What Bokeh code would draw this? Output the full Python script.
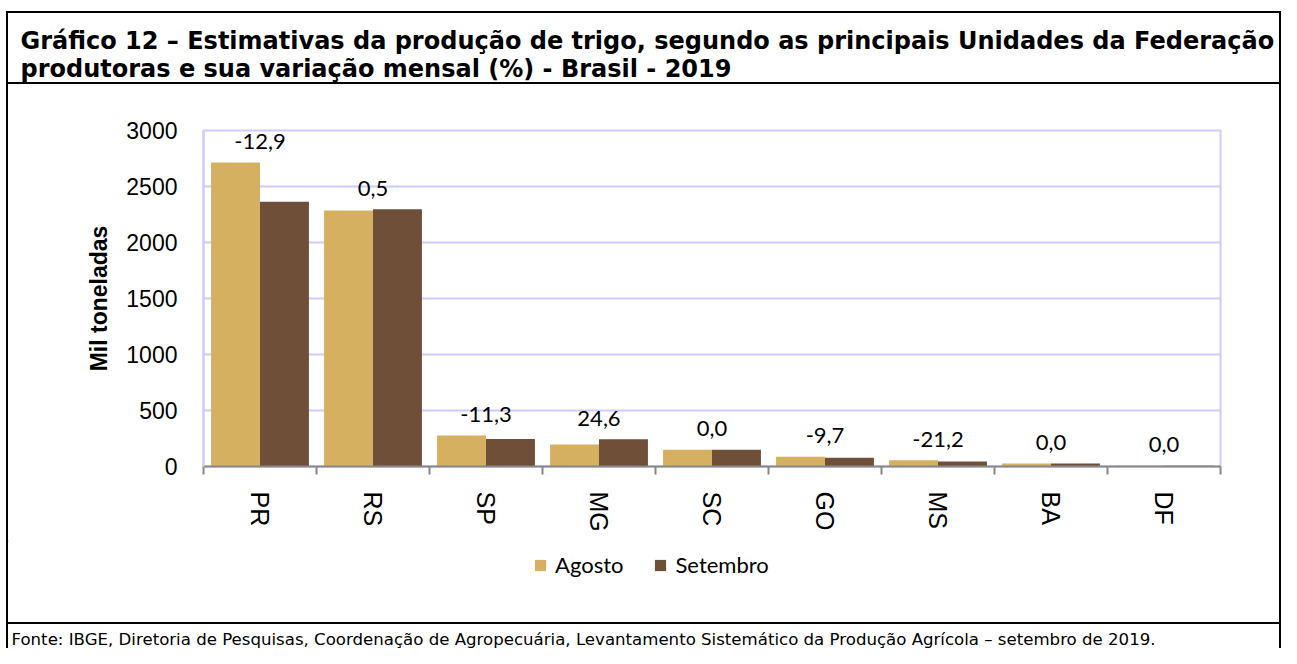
from bokeh.plotting import figure
from bokeh.layouts import column, row
from bokeh.models import (ColumnDataSource, FixedTicker, LabelSet, Legend, LegendItem,
                          Range1d, Spacer)
from bokeh.core.properties import value
from bokeh.embed import file_html
from bokeh.resources import INLINE

# ---- data ----
estados = ["PR", "RS", "SP", "MG", "SC", "GO", "MS", "BA", "DF"]
agosto = [2714, 2286, 277, 196, 149, 86, 56, 27, 6]
setembro = [2364, 2297, 246, 244, 149, 78, 44, 27, 6]
variacao = ["-12,9", "0,5", "-11,3", "24,6", "0,0", "-9,7", "-21,2", "0,0", "0,0"]
y_ticks = [0, 500, 1000, 1500, 2000, 2500, 3000]
series = ["Agosto", "Setembro"]

titulo1 = "Gráfico 12 – Estimativas da produção de trigo, segundo as principais Unidades da Federação"
titulo2 = "produtoras e sua variação mensal (%) - Brasil - 2019"
fonte = ("Fonte: IBGE, Diretoria de Pesquisas, Coordenação de Agropecuária, Levantamento "
         "Sistemático da Produção Agrícola – setembro de 2019.")

C_AGO = "#D4B060"
C_SET = "#6F4F38"
GRID = "#CCCCFF"

W, H = 1281, 648
LEFT_GAP, BW = 6, 2                 # white gap and border width
IW = W - LEFT_GAP - 2 * BW          # inner width
TOP_GAP = 11
TITLE_H, CHART_H, LEG_H = 69, 456, 82
FOOT_H = H - TOP_GAP - BW - TITLE_H - BW - CHART_H - LEG_H - BW


def bar(w, h):
    return Spacer(width=w, height=h, styles={"background-color": "black"})


def plain_fig(w, h):
    f = figure(width=w, height=h, output_backend="svg", toolbar_location=None,
               x_range=Range1d(0, w), y_range=Range1d(h, 0),
               x_axis_type=None, y_axis_type=None, min_border=0,
               background_fill_color="white", border_fill_color="white")
    f.outline_line_color = None
    f.grid.visible = False
    f.frame_align = False
    return f


# ---- title ----
tf = plain_fig(IW, TITLE_H)
tf.text(x=[12, 12], y=[27, 55], text=[titulo1, titulo2],
        text_font=value("DejaVu Sans"), text_font_style="bold", text_font_size="24px",
        text_baseline="alphabetic", text_color="black")

# ---- footer ----
ff = plain_fig(IW, FOOT_H)
ff.text(x=[3], y=[15], text=[fonte], text_font=value("DejaVu Sans"),
        text_font_size="16.6px", text_baseline="alphabetic", text_color="black")

# ---- chart ----
n = len(estados)
centers = [i + 0.5 for i in range(n)]
bw = 0.433
src = ColumnDataSource(dict(
    x_ago=[c - bw / 2 for c in centers],
    x_set=[c + bw / 2 for c in centers],
    xc=centers,
    ago=agosto, set=setembro,
    ymax=[max(a, s) for a, s in zip(agosto, setembro)],
    lab=variacao,
))

FL, FR, FT, FB = 195, 1212, 46, 382
p = figure(width=IW, height=CHART_H, output_backend="svg", toolbar_location=None,
           x_range=Range1d(0, n), y_range=Range1d(0, 3000),
           min_border_left=FL, min_border_right=IW - FR,
           min_border_top=FT, min_border_bottom=CHART_H - FB,
           background_fill_color="white", border_fill_color="white")
p.frame_align = False

r1 = p.vbar(x="x_ago", top="ago", width=bw, source=src, fill_color=C_AGO, line_color=None)
r2 = p.vbar(x="x_set", top="set", width=bw, source=src, fill_color=C_SET, line_color=None)

p.add_layout(LabelSet(x="xc", y="ymax", text="lab", source=src, y_offset=21,
                      text_align="center", text_baseline="middle",
                      text_font=value("Lato"), text_font_size=value("22px"),
                      text_color="black"))

xa = p.xaxis[0]
xa.ticker = FixedTicker(ticks=centers, minor_ticks=list(range(n + 1)))
xa.major_label_overrides = {c: e for c, e in zip(centers, estados)}
xa.major_label_orientation = "vertical"
xa.major_tick_line_color = None
xa.major_tick_out = 0
xa.major_tick_in = 0
xa.minor_tick_out = 8
xa.minor_tick_in = 0
xa.minor_tick_line_color = "#888888"
xa.minor_tick_line_width = 2
xa.axis_line_color = "#888888"
xa.axis_line_width = 2
xa.major_label_standoff = 17
xa.major_label_text_font = "Liberation Sans"
xa.major_label_text_font_size = "25px"
xa.major_label_text_color = "black"

ya = p.yaxis[0]
ya.ticker = FixedTicker(ticks=y_ticks)
ya.axis_line_color = GRID
ya.axis_line_width = 2
ya.major_tick_line_color = None
ya.minor_tick_line_color = None
ya.major_label_standoff = 20
ya.major_label_text_font = "Liberation Sans"
ya.major_label_text_font_size = "23px"
ya.major_label_text_color = "black"
ya.axis_label = "Mil toneladas"
ya.axis_label_text_font = "Liberation Sans"
ya.axis_label_text_font_style = "bold"
ya.axis_label_text_font_size = "23px"
ya.axis_label_text_color = "black"
ya.axis_label_standoff = 11

p.xgrid.grid_line_color = None
p.ygrid.grid_line_color = GRID
p.ygrid.grid_line_width = 2
p.outline_line_color = GRID
p.outline_line_width = 2

# ---- legend strip (proxy renderers placed outside the visible range) ----
lsrc = ColumnDataSource(dict(x=[-1000], top=[1]))
lf = plain_fig(IW, LEG_H)
lr1 = lf.vbar(x="x", top="top", width=1, source=lsrc, fill_color=C_AGO, line_color=None)
lr2 = lf.vbar(x="x", top="top", width=1, source=lsrc, fill_color=C_SET, line_color=None)
leg = Legend(items=[LegendItem(label=series[0], renderers=[lr1]),
                    LegendItem(label=series[1], renderers=[lr2])],
             orientation="horizontal", location=(525, 44),
             glyph_width=14, glyph_height=14, label_standoff=8, spacing=30,
             padding=0, margin=0, border_line_color=None, background_fill_alpha=0,
             label_text_font="Lato", label_text_font_size="22px",
             label_text_color="black")
lf.add_layout(leg)

inner = column(tf, bar(IW, BW), p, lf, bar(IW, BW), ff, spacing=0)
body = row(bar(BW, H - TOP_GAP - BW), inner, bar(BW, H - TOP_GAP - BW), spacing=0)
layout = column(Spacer(width=W, height=TOP_GAP),
                row(Spacer(width=LEFT_GAP, height=BW), bar(W - LEFT_GAP, BW), spacing=0),
                row(Spacer(width=LEFT_GAP, height=H - TOP_GAP - BW), body, spacing=0),
                spacing=0)

open("out.html", "w").write(file_html(layout, INLINE))
